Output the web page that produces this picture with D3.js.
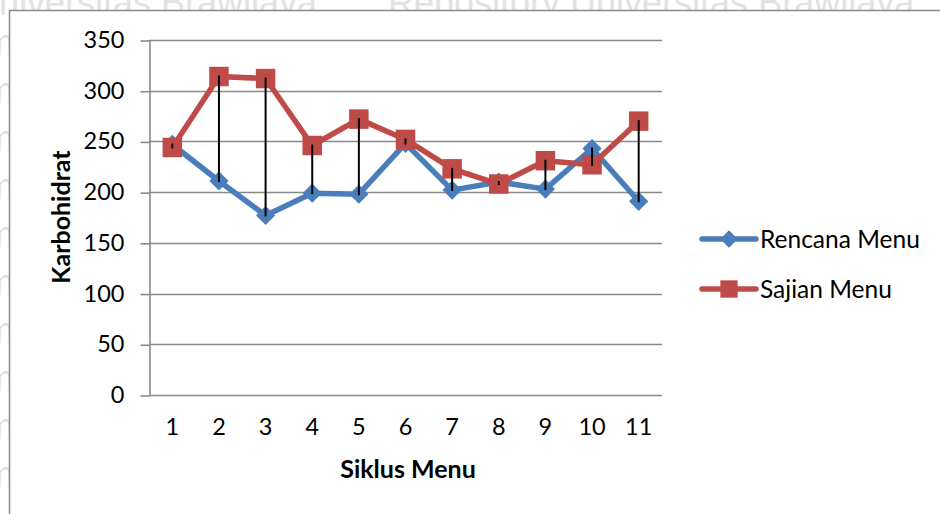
<!DOCTYPE html>
<html>
<head>
<meta charset="utf-8">
<script src="https://cdn.jsdelivr.net/npm/d3@7"></script>
<style>
  html, body { margin: 0; padding: 0; background: #fff; }
  svg { display: block; }
</style>
</head>
<body>
<svg id="chart" width="940" height="514"></svg>
<script>
// Carbohydrate per menu cycle: planned menu vs. served menu
const categories = ["1", "2", "3", "4", "5", "6", "7", "8", "9", "10", "11"];
const rencanaMenu = [247, 211, 177, 199, 198, 248, 202, 210, 203, 243, 191];
const sajianMenu  = [244, 314, 312, 246, 272, 252, 223, 208, 231, 227, 270];
const yTicks = [0, 50, 100, 150, 200, 250, 300, 350];
const seriesNames = ["Rencana Menu", "Sajian Menu"];

const BLUE = "#4a7ebb";
const RED = "#be4b48";
const GRID = "#8a8a8a";
const FONT = "Lato, 'Open Sans', sans-serif";

const svg = d3.select("#chart");

// faint document watermark behind the chart box
const wm = svg.append("g").attr("fill", "#e2e2e2")
  .attr("font-family", "'Liberation Sans', Arial, sans-serif")
  .attr("font-size", 36);
wm.append("text").attr("x", -27).attr("y", 15).text("Universitas Brawijaya");
wm.append("text").attr("x", 388).attr("y", 15).text("Repository Universitas Brawijaya");
d3.range(55, 514, 48).forEach(yy => {
  wm.append("text").attr("x", -16).attr("y", yy).text("m");
});

// chart box
svg.append("rect")
  .attr("x", 9.5).attr("y", 10.5)
  .attr("width", 960).attr("height", 540)
  .attr("fill", "#fff").attr("stroke", "#8c8c8c").attr("stroke-width", 1.5);

const x = d3.scaleBand().domain(categories).range([149, 662]).paddingInner(0).paddingOuter(0);
const y = d3.scaleLinear().domain([0, 350]).range([395, 40]);
const cx = c => x(c) + x.bandwidth() / 2;

// horizontal gridlines
svg.append("g")
  .selectAll("line").data(yTicks).join("line")
  .attr("x1", 149).attr("x2", 662)
  .attr("y1", d => Math.round(y(d)) + 0.5).attr("y2", d => Math.round(y(d)) + 0.5)
  .attr("stroke", GRID).attr("stroke-width", 1.6);

// y axis
const yAxis = svg.append("g")
  .attr("transform", "translate(149.5,0)")
  .call(d3.axisLeft(y).tickValues(yTicks).tickSize(9).tickSizeOuter(0).tickPadding(16));
yAxis.select(".domain").attr("stroke", GRID).attr("stroke-width", 1.6);
yAxis.selectAll(".tick line").attr("stroke", GRID).attr("stroke-width", 1.6)
  .attr("transform", "translate(0,0.5)");
yAxis.selectAll(".tick text")
  .attr("font-family", FONT).attr("font-size", 23.5).attr("fill", "#000");

// x axis labels (no tick marks)
const xAxis = svg.append("g")
  .attr("transform", "translate(0,395.5)")
  .call(d3.axisBottom(x).tickSize(0).tickPadding(23));
xAxis.select(".domain").remove();
xAxis.selectAll(".tick text")
  .attr("font-family", FONT).attr("font-size", 23.5).attr("fill", "#000");

// axis titles
svg.append("text")
  .attr("x", 408).attr("y", 478)
  .attr("text-anchor", "middle")
  .attr("font-family", FONT).attr("font-weight", "bold").attr("font-size", 25)
  .text("Siklus Menu");
svg.append("text")
  .attr("transform", "translate(70,217) rotate(-90)")
  .attr("text-anchor", "middle")
  .attr("font-family", FONT).attr("font-weight", "bold").attr("font-size", 25)
  .text("Karbohidrat");

const line = d3.line().x((d, i) => cx(categories[i])).y(d => y(d));
const diamond = d3.symbol().type(d3.symbolSquare).size(185);
const square = d3.symbol().type(d3.symbolSquare).size(380);

function drawSeries(values, color, marker, rotate) {
  const g = svg.append("g");
  g.append("path").datum(values)
    .attr("d", line)
    .attr("fill", "none").attr("stroke", color)
    .attr("stroke-width", 5.5).attr("stroke-linejoin", "round").attr("stroke-linecap", "round");
  g.selectAll("path.m").data(values).join("path")
    .attr("class", "m")
    .attr("d", marker)
    .attr("transform", (d, i) => `translate(${cx(categories[i])},${y(d)}) rotate(${rotate})`)
    .attr("fill", color);
}
drawSeries(rencanaMenu, BLUE, diamond, 45);
drawSeries(sajianMenu, RED, square, 0);

// high-low lines between the two series
svg.append("g")
  .selectAll("line").data(categories).join("line")
  .attr("x1", c => cx(c)).attr("x2", c => cx(c))
  .attr("y1", (c, i) => y(Math.max(rencanaMenu[i], sajianMenu[i])))
  .attr("y2", (c, i) => y(Math.min(rencanaMenu[i], sajianMenu[i])))
  .attr("stroke", "#000").attr("stroke-width", 2).attr("stroke-linecap", "square");

// legend
const legend = svg.append("g");
[[BLUE, 45, 150], [RED, 0, 300]].forEach(([color, rot, size], i) => {
  const ly = 239 + i * 50;
  legend.append("line")
    .attr("x1", 702).attr("x2", 756).attr("y1", ly).attr("y2", ly)
    .attr("stroke", color).attr("stroke-width", 5.5).attr("stroke-linecap", "round");
  legend.append("path")
    .attr("d", d3.symbol().type(d3.symbolSquare).size(size)())
    .attr("transform", `translate(729,${ly}) rotate(${rot})`)
    .attr("fill", color);
  legend.append("text")
    .attr("x", 760).attr("y", ly).attr("dy", "0.35em")
    .attr("font-family", FONT).attr("font-size", 24.5)
    .text(seriesNames[i]);
});
</script>
</body>
</html>
